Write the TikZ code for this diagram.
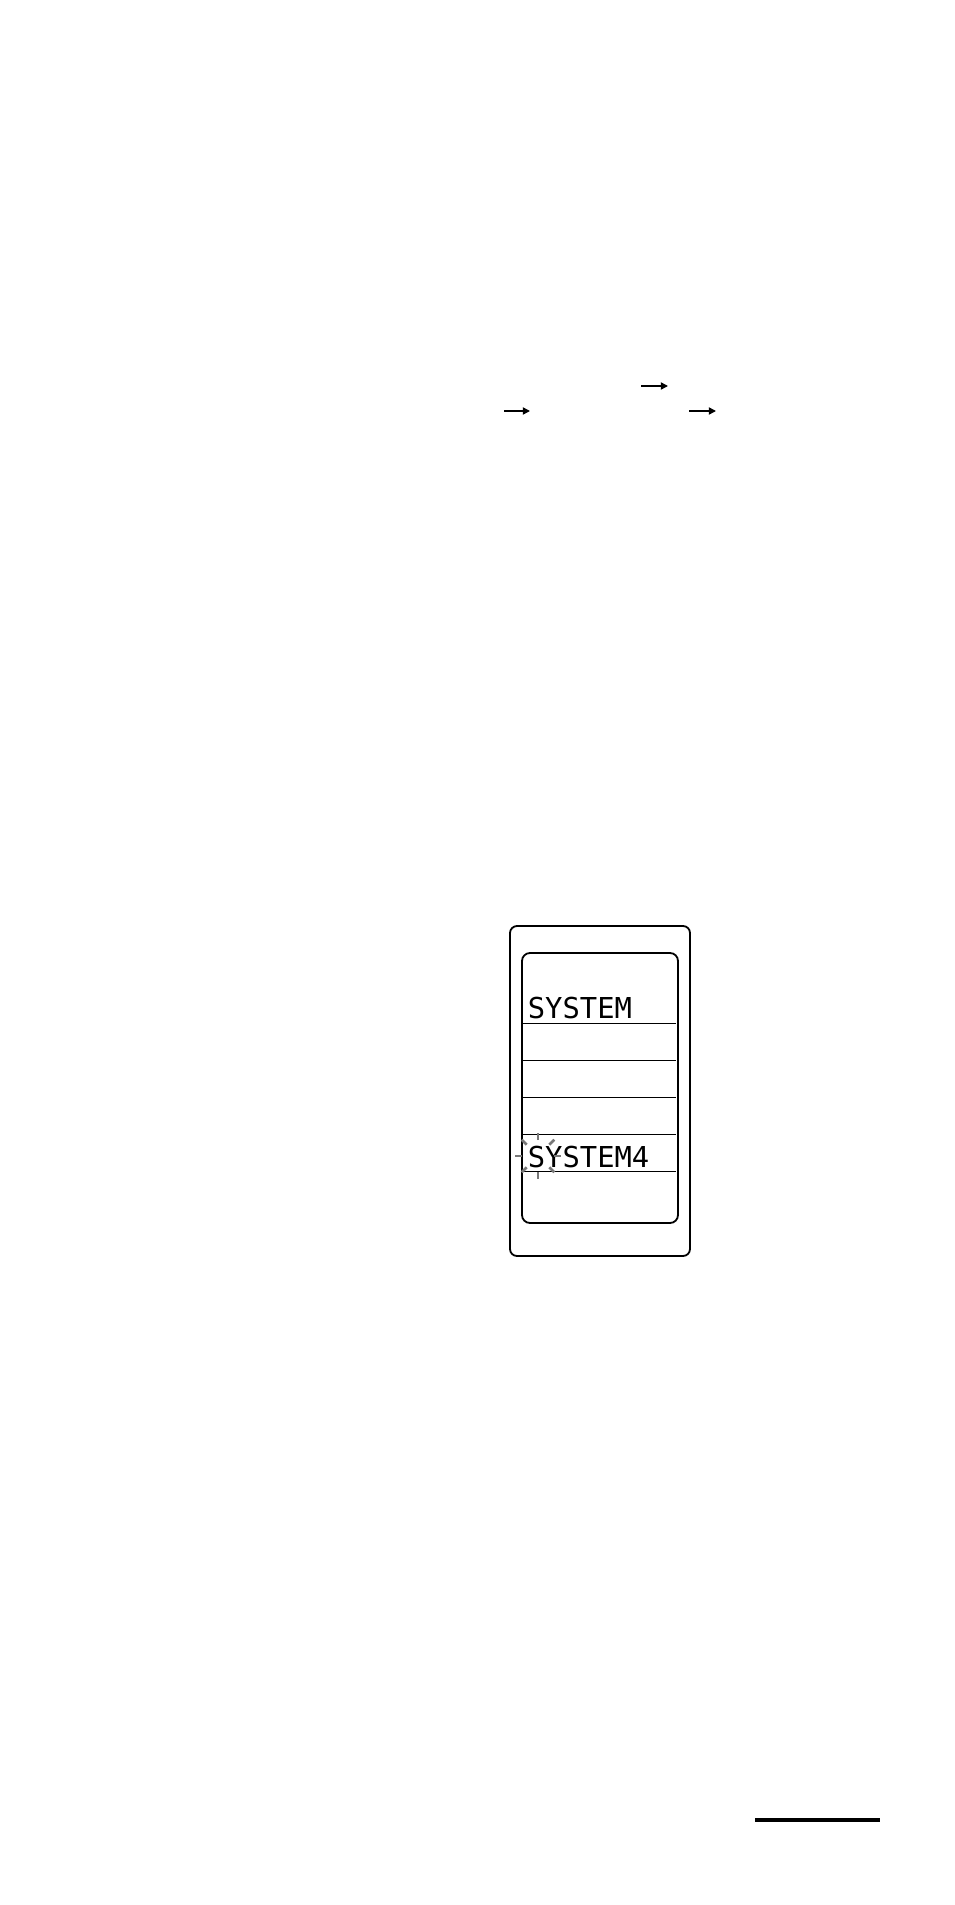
\documentclass[tikz,border=0pt]{standalone}
\usepackage{fontspec}
\newfontfamily\lcdfont{DejaVu Sans Mono}
\usetikzlibrary{arrows.meta,calc}
\definecolor{raygray}{RGB}{120,120,120}
\begin{document}
\begin{tikzpicture}[x=0.5pt,y=-0.5pt,
  arr/.style={line width=0.75pt,-{Triangle[length=3.6pt,width=3.6pt]}},
  boxline/.style={line width=0.9pt,rounded corners=3.5pt},
  sep/.style={line width=0.5pt},
  lcd/.style={font=\lcdfont\fontsize{14.4pt}{14.4pt}\selectfont,inner sep=0pt,anchor=base west},
  ray/.style={line width=1.3pt,draw=raygray,line cap=butt}]
\useasboundingbox (0,0) rectangle (954,1905);
% arrows
\coordinate (a1s) at (504,411); \coordinate (a1e) at (530,411);
\coordinate (a2s) at (641,386); \coordinate (a2e) at (668,386);
\coordinate (a3s) at (689,411); \coordinate (a3e) at (716,411);
\draw[arr] (a1s) -- (a1e);
\draw[arr] (a2s) -- (a2e);
\draw[arr] (a3s) -- (a3e);
% device
\draw[boxline] (510,926) rectangle (690,1256);
\draw[boxline,rounded corners=4pt] (522,953) rectangle (678,1223);
\foreach \yy in {1023,1060,1097,1134,1171}
  \draw[sep] (522,\yy) -- (676,\yy);
\node[lcd] (t1) at (527.5,1018) {SYSTEM};
\node[lcd] (t2) at (527.5,1167) {SYSTEM4};
% blink rays
\coordinate (bc) at (538,1156);
\foreach \a in {0,45,...,315}
  \draw[ray] ($(bc)+(\a:16)$) -- ($(bc)+(\a:23)$);
% bottom rule
\draw[line width=2pt] (755,1820) -- (880,1820);
\end{tikzpicture}
\end{document}
